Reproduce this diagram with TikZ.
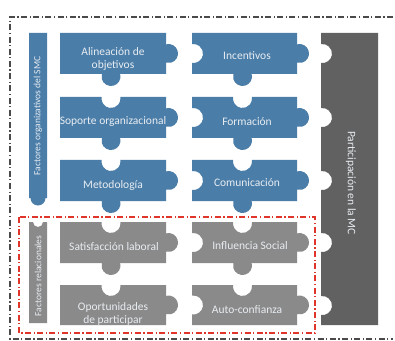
\documentclass[tikz,border=0pt]{standalone}
\usepackage{fontspec}
\setmainfont{Carlito}
\definecolor{pzblue}{HTML}{4A7DA8}
\definecolor{pzgray}{HTML}{8A8A8A}
\definecolor{pzdark}{HTML}{616161}
\definecolor{pztext}{HTML}{E8EDF2}
\definecolor{frameline}{HTML}{4A4A4A}
\definecolor{groupred}{HTML}{E0352B}

% Puzzle piece: #1 fill colour, #2 left, #3 top, #4 width, #5 height,
% #6 hole on top (0/1), #7 hole on the left (0/1), #8 knob at the bottom (0/1).
% Every piece has a knob on its right side; a missing feature gets radius 0.
\newcommand\pzpiece[8]{%
  \pgfmathsetmacro\pzR{#2+#4}%
  \pgfmathsetmacro\pzB{#3-#5}%
  \pgfmathsetmacro\pzXm{#2+#4/2-2}%
  \pgfmathsetmacro\pzYm{#3-#5/2}%
  \pgfmathsetmacro\pzTw{9.381*#6}%
  \pgfmathsetmacro\pzTr{9.5*#6}%
  \pgfmathsetmacro\pzLw{9.381*#7}%
  \pgfmathsetmacro\pzLr{9.5*#7}%
  \pgfmathsetmacro\pzBw{9.165*#8}%
  \pgfmathsetmacro\pzBr{9.5*#8}%
  \fill[#1] (#2,#3)
    -- (\pzXm-\pzTw,#3) arc[start angle=170.92,end angle=369.08,radius=\pzTr pt]
    -- (\pzR,#3) -- (\pzR,\pzYm+9.165)
    arc[start angle=105.26,end angle=-105.26,radius=9.5pt]
    -- (\pzR,\pzB)
    -- (\pzXm+\pzBw,\pzB) arc[start angle=15.26,end angle=-195.26,radius=\pzBr pt]
    -- (#2,\pzB)
    -- (#2,\pzYm-\pzLw) arc[start angle=-99.08,end angle=99.08,radius=\pzLr pt]
    -- cycle;%
}

\tikzset{
  lbl/.style={text=pztext, align=center, inner sep=0pt,
    font=\fontsize{11.5}{13}\selectfont},
  sidelbl/.style={text=pztext, inner sep=0pt,
    font=\fontsize{9.5}{11}\selectfont},
  outerframe/.style={draw=frameline, line width=1.2pt,
    dash pattern=on 6pt off 2.5pt on 1.2pt off 2.5pt},
  groupframe/.style={draw=groupred, line width=1.3pt,
    dash pattern=on 6pt off 2.5pt on 1.2pt off 2.5pt}
}

\begin{document}
\begin{tikzpicture}[x=1pt,y=1pt]
\useasboundingbox (0,0) rectangle (395,340);
\clip (0,0) rectangle (395,340);

% outer frame (open on the right)
\draw[outerframe] (393,323) -- (10,323) -- (10,1) -- (393,1);

% organisational factors bar
\fill[pzblue] (29,307) -- (47,307) -- (47,142) -- (45.5,142)
  arc[start angle=0,end angle=-180,radius=7.5pt] -- (29,142) -- cycle;
% relational factors bar
\fill[pzgray] (29,118) -- (33,118) arc[start angle=180,end angle=360,radius=5pt]
  -- (47,118) -- (47,17) -- (29,17) -- cycle;

% left column of pieces
\pzpiece{pzblue}{60}{307}{106}{41}{0}{0}{1}
\pzpiece{pzblue}{60}{243}{106}{41}{1}{0}{1}
\pzpiece{pzblue}{60}{180}{106}{41}{1}{0}{1}
\pzpiece{pzgray}{60}{118}{106}{41}{1}{0}{1}
\pzpiece{pzgray}{60}{55}{106}{40}{1}{0}{0}
% right column of pieces
\pzpiece{pzblue}{192}{307}{105}{41}{0}{1}{1}
\pzpiece{pzblue}{192}{243}{105}{41}{1}{1}{1}
\pzpiece{pzblue}{192}{180}{105}{41}{1}{1}{1}
\pzpiece{pzgray}{192}{118}{105}{41}{1}{1}{1}
\pzpiece{pzgray}{192}{55}{105}{40}{1}{1}{0}

% participation bar with notches for each row
\fill[pzdark] (321,15)
  -- (321,25.1) arc[start angle=-99.08,end angle=99.08,radius=9.5pt]
  -- (321,88.1) arc[start angle=-99.08,end angle=99.08,radius=9.5pt]
  -- (321,150.1) arc[start angle=-99.08,end angle=99.08,radius=9.5pt]
  -- (321,213.1) arc[start angle=-99.08,end angle=99.08,radius=9.5pt]
  -- (321,277.1) arc[start angle=-99.08,end angle=99.08,radius=9.5pt]
  -- (321,307) -- (378,307) -- (378,15) -- cycle;

% relational group frame
\draw[groupframe] (19,123) rectangle (315,7);

% labels
\node[lbl] (alin) at (113,281.5) {Alineación de\\objetivos};
\node[lbl] (sopo) at (113,219) {Soporte organizacional};
\node[lbl] (meto) at (113,155) {Metodología};
\node[lbl] (sati) at (114,93) {Satisfacción laboral};
\node[lbl] (opor) at (113,26.5) {Oportunidades\\de participar};
\node[lbl] (ince) at (247,284) {Incentivos};
\node[lbl] (form) at (247,218) {Formación};
\node[lbl] (comu) at (247,157) {Comunicación};
\node[lbl] (infl) at (250,94) {Influencia Social};
\node[lbl] (auto) at (247,30) {Auto-confianza};
\node[sidelbl, rotate=90] (forg) at (38,224) {Factores organizativos del SMC};
\node[sidelbl, rotate=90] (frel) at (38,64) {Factores relacionales};
\node[lbl, rotate=-90] (part) at (351,157) {Participación en la MC};
\end{tikzpicture}
\end{document}
